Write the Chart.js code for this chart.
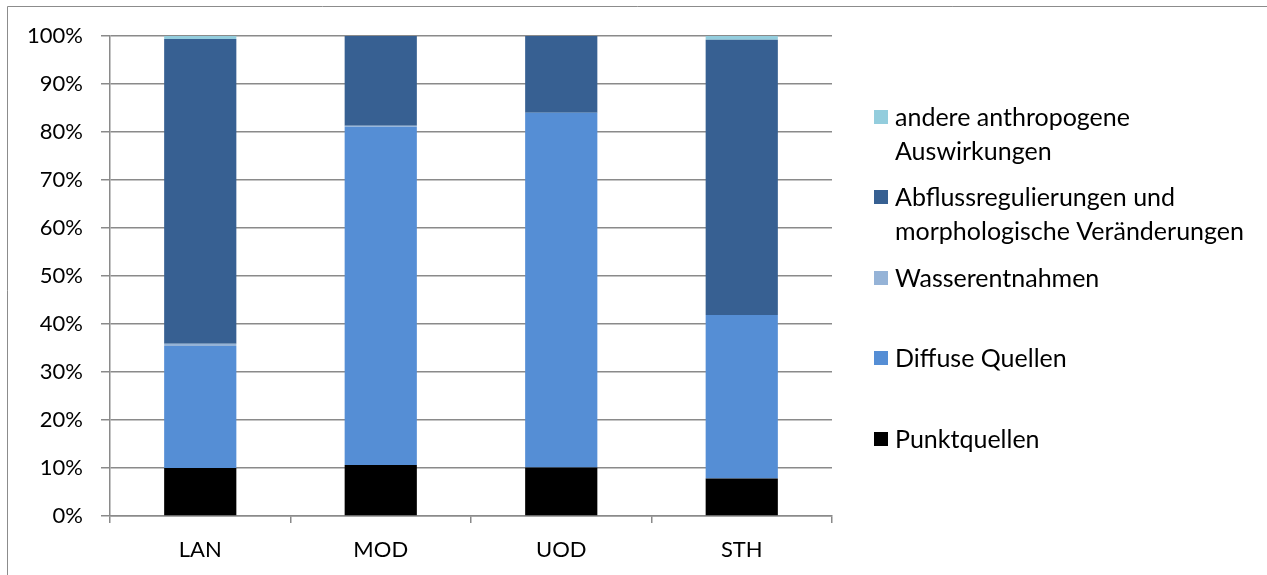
<!DOCTYPE html>
<html>
<head>
<meta charset="utf-8">
<script src="https://cdn.jsdelivr.net/npm/chart.js@4/dist/chart.umd.min.js"></script>
<style>
  html, body { margin: 0; padding: 0; background: #fff; }
  #wrap { width: 1267px; height: 575px; position: relative; }
</style>
</head>
<body>
<div id="wrap"><canvas id="c" width="1267" height="575"></canvas></div>
<script>
// ---- Data ----
const categories = ["LAN", "MOD", "UOD", "STH"];
const punktquellen = [10.0, 10.6, 10.1, 7.8];
const diffuseQuellen = [25.4, 70.5, 73.9, 34.1];
const wasserentnahmen = [0.5, 0.2, 0.0, 0.0];
const abflussregulierungen = [63.5, 18.7, 16.0, 57.3];
const andereAuswirkungen = [0.6, 0.0, 0.0, 0.8];
const yTickLabels = ["0%", "10%", "20%", "30%", "40%", "50%", "60%", "70%", "80%", "90%", "100%"];

const seriesNames = [
  ["Punktquellen"],
  ["Diffuse Quellen"],
  ["Wasserentnahmen"],
  ["Abflussregulierungen und", "morphologische Veränderungen"],
  ["andere anthropogene", "Auswirkungen"]
];
const seriesColors = ["#000000", "#558ED5", "#95B3D7", "#376092", "#93CDDD"];
const seriesValues = [punktquellen, diffuseQuellen, wasserentnahmen, abflussregulierungen, andereAuswirkungen];

const FONT = "Lato, 'Open Sans', sans-serif";
const GRID = "#8a8a8a";

const datasets = seriesValues.map((vals, i) => ({
  label: seriesNames[i].join(" "),
  data: vals,
  backgroundColor: seriesColors[i],
  borderWidth: 0,
  categoryPercentage: 1.0,
  barPercentage: 0.4
}));

// Background + outer border
const frame = {
  id: "frame",
  beforeDraw(chart) {
    const ctx = chart.ctx;
    ctx.save();
    ctx.fillStyle = "#fff";
    ctx.fillRect(0, 0, chart.width, chart.height);
    ctx.strokeStyle = "#8c8c8c";
    ctx.lineWidth = 1;
    ctx.beginPath();
    ctx.moveTo(7.5, chart.height);
    ctx.lineTo(7.5, 6.5);
    ctx.lineTo(chart.width, 6.5);
    ctx.stroke();
    ctx.restore();
  }
};

// Custom legend (reverse order, top to bottom)
const customLegend = {
  id: "customLegend",
  afterDraw(chart) {
    const ctx = chart.ctx;
    const centers = [117, 197, 278, 358, 439];
    const sqX = 874, sqSize = 14, textX = 895, lineGap = 34;
    ctx.save();
    ctx.font = "25px " + FONT;
    ctx.textBaseline = "middle";
    ctx.textAlign = "left";
    const order = chart.data.datasets.map((d, i) => i).reverse();
    order.forEach((dsIndex, k) => {
      const cy = centers[k];
      ctx.fillStyle = chart.data.datasets[dsIndex].backgroundColor;
      ctx.fillRect(sqX, cy - sqSize / 2, sqSize, sqSize);
      ctx.fillStyle = "#000";
      seriesNames[dsIndex].forEach((line, j) => {
        ctx.fillText(line, textX, cy + 1 + j * lineGap);
      });
    });
    ctx.restore();
  }
};

new Chart(document.getElementById("c"), {
  type: "bar",
  data: { labels: categories, datasets },
  options: {
    responsive: false,
    animation: false,
    devicePixelRatio: 1,
    layout: { padding: { left: 0, top: 36, right: 435, bottom: 0 } },
    plugins: {
      legend: { display: false },
      tooltip: { enabled: false }
    },
    scales: {
      x: {
        stacked: true,
        grid: {
          drawOnChartArea: false,
          drawTicks: true,
          tickLength: 7,
          color: GRID,
          lineWidth: 1.5
        },
        border: { display: true, color: GRID, width: 1.5 },
        ticks: {
          color: "#000",
          font: { family: FONT, size: 22 },
          padding: 14
        },
        afterFit(scale) { scale.height = 59; }
      },
      y: {
        stacked: true,
        min: 0,
        max: 100,
        grid: {
          color: GRID,
          lineWidth: 1.5,
          drawTicks: true,
          tickLength: 9
        },
        border: { display: true, color: GRID, width: 1.5 },
        ticks: {
          stepSize: 10,
          color: "#000",
          font: { family: FONT, size: 22 },
          padding: 18,
          callback: (v, i) => yTickLabels[i]
        },
        afterFit(scale) { scale.width = 110; }
      }
    }
  },
  plugins: [frame, customLegend]
});
</script>
</body>
</html>
